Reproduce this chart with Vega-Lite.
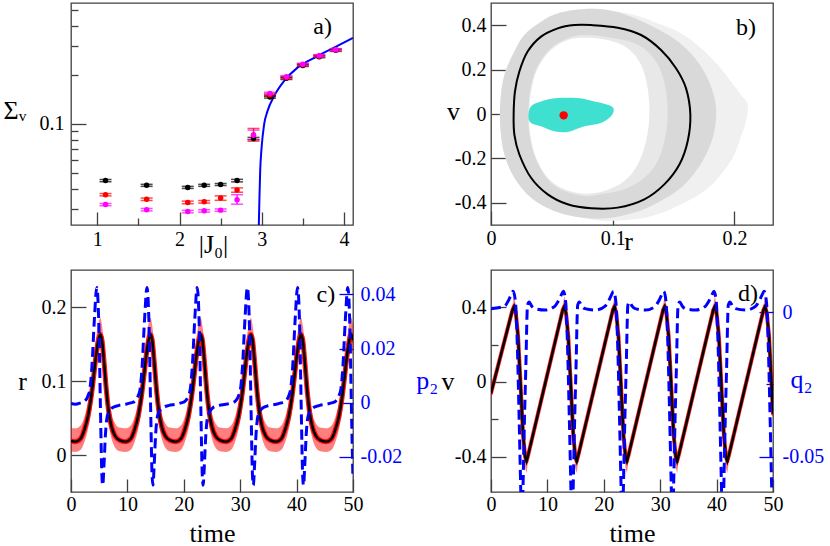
{
"$schema": "https://vega.github.io/schema/vega-lite/v6.json",
"background": "white",
"padding": {"left": 2, "top": 2, "right": 2, "bottom": 2},
"bounds": "flush",
"columns": 2,
"spacing": {"row": 45, "column": 138},
"config": {
 "view": {"stroke": "#404040", "strokeWidth": 1.3},
 "axis": {"grid": false, "domain": false, "labelFont": "Liberation Serif", "labelFontSize": 20, "labelColor": "#000000", "titleFont": "Liberation Serif", "titleFontSize": 26, "titleFontWeight": "normal", "titleColor": "#000000", "tickColor": "#404040", "tickWidth": 1.3, "labelPadding": 20, "labelFlush": false, "labelOverlap": false, "labelBound": false},
 "text": {"font": "Liberation Serif"}
},
"datasets": {
 "aCurve": [{"x":2.955,"y":0.018},{"x":2.965,"y":0.0247},{"x":2.973,"y":0.0368},{"x":2.981,"y":0.0512},{"x":2.998,"y":0.0712},{"x":3.029,"y":0.0992},{"x":3.07,"y":0.1197},{"x":3.151,"y":0.148},{"x":3.272,"y":0.183},{"x":3.435,"y":0.221},{"x":3.637,"y":0.254},{"x":3.88,"y":0.293},{"x":4.11,"y":0.336}],
 "aPts": [
  {"s":"black","x":1.1,"y":0.0449,"lo":0.0442,"hi":0.0456},{"s":"black","x":1.6,"y":0.042,"lo":0.0414,"hi":0.0426},{"s":"black","x":2.1,"y":0.0408,"lo":0.0402,"hi":0.0414},{"s":"black","x":2.3,"y":0.042,"lo":0.0414,"hi":0.0426},{"s":"black","x":2.5,"y":0.0425,"lo":0.0419,"hi":0.0431},{"s":"black","x":2.7,"y":0.0449,"lo":0.0441,"hi":0.0457},{"s":"black","x":2.9,"y":0.0813,"lo":0.08,"hi":0.0826},{"s":"black","x":3.1,"y":0.146,"lo":0.1438,"hi":0.1482},{"s":"black","x":3.3,"y":0.19,"lo":0.187,"hi":0.193},{"s":"black","x":3.5,"y":0.228,"lo":0.2246,"hi":0.2314},{"s":"black","x":3.7,"y":0.258,"lo":0.2541,"hi":0.2619},{"s":"black","x":3.9,"y":0.282,"lo":0.2778,"hi":0.2862},
  {"s":"red","x":1.1,"y":0.0368,"lo":0.0362,"hi":0.0374},{"s":"red","x":1.6,"y":0.0345,"lo":0.0339,"hi":0.0351},{"s":"red","x":2.1,"y":0.033,"lo":0.0324,"hi":0.0336},{"s":"red","x":2.3,"y":0.0333,"lo":0.0327,"hi":0.0339},{"s":"red","x":2.5,"y":0.0351,"lo":0.034,"hi":0.0362},{"s":"red","x":2.7,"y":0.0393,"lo":0.0381,"hi":0.0405},{"s":"red","x":2.9,"y":0.0855,"lo":0.0783,"hi":0.0937},{"s":"red","x":3.1,"y":0.15,"lo":0.1475,"hi":0.1525},{"s":"red","x":3.3,"y":0.192,"lo":0.189,"hi":0.195},{"s":"red","x":3.5,"y":0.23,"lo":0.2265,"hi":0.2335},{"s":"red","x":3.7,"y":0.26,"lo":0.256,"hi":0.264},{"s":"red","x":3.9,"y":0.284,"lo":0.2797,"hi":0.2883},
  {"s":"magenta","x":1.1,"y":0.032,"lo":0.0315,"hi":0.0325},{"s":"magenta","x":1.6,"y":0.0298,"lo":0.0293,"hi":0.0303},{"s":"magenta","x":2.1,"y":0.029,"lo":0.0285,"hi":0.0295},{"s":"magenta","x":2.3,"y":0.0293,"lo":0.0288,"hi":0.0298},{"s":"magenta","x":2.5,"y":0.0296,"lo":0.0291,"hi":0.0301},{"s":"magenta","x":2.7,"y":0.0343,"lo":0.0322,"hi":0.0368},{"s":"magenta","x":2.9,"y":0.0852,"lo":0.0802,"hi":0.0915},{"s":"magenta","x":3.1,"y":0.1537,"lo":0.1513,"hi":0.1561},{"s":"magenta","x":3.3,"y":0.1944,"lo":0.1914,"hi":0.1974},{"s":"magenta","x":3.5,"y":0.2317,"lo":0.2282,"hi":0.2352},{"s":"magenta","x":3.7,"y":0.2617,"lo":0.2578,"hi":0.2656},{"s":"magenta","x":3.9,"y":0.2848,"lo":0.2805,"hi":0.2891}],
 "bS": [{"i":0,"r":0.0767,"v":0.4726},{"i":1,"r":0.0959,"v":0.4681},{"i":2,"r":0.1178,"v":0.4456},{"i":3,"r":0.1369,"v":0.4083},{"i":4,"r":0.1561,"v":0.3634},{"i":5,"r":0.1726,"v":0.2961},{"i":6,"r":0.1862,"v":0.2213},{"i":7,"r":0.1972,"v":0.1466},{"i":8,"r":0.2054,"v":0.0867},{"i":9,"r":0.2109,"v":0.0419},{"i":10,"r":0.2095,"v":-0.0329},{"i":11,"r":0.2041,"v":-0.1226},{"i":12,"r":0.1986,"v":-0.1974},{"i":13,"r":0.189,"v":-0.2722},{"i":14,"r":0.1753,"v":-0.3469},{"i":15,"r":0.1534,"v":-0.4142},{"i":16,"r":0.1287,"v":-0.4636},{"i":17,"r":0.0959,"v":-0.4815},{"i":18,"r":0.074,"v":-0.4666},{"i":19,"r":0.052,"v":-0.4367},{"i":20,"r":0.0329,"v":-0.3768},{"i":21,"r":0.0192,"v":-0.2871},{"i":22,"r":0.011,"v":-0.1824},{"i":23,"r":0.0077,"v":-0.0628},{"i":24,"r":0.0077,"v":0.0568},{"i":25,"r":0.011,"v":0.1765},{"i":26,"r":0.0192,"v":0.2811},{"i":27,"r":0.0274,"v":0.3559},{"i":28,"r":0.0411,"v":0.4157},{"i":29,"r":0.0548,"v":0.4531}],
 "bD": [{"i":0,"r":0.0767,"v":0.4726},{"i":1,"r":0.0959,"v":0.4681},{"i":2,"r":0.115,"v":0.4382},{"i":3,"r":0.1315,"v":0.3978},{"i":4,"r":0.1479,"v":0.3484},{"i":5,"r":0.1616,"v":0.2886},{"i":6,"r":0.1726,"v":0.2138},{"i":7,"r":0.1808,"v":0.1241},{"i":8,"r":0.1849,"v":0.0269},{"i":9,"r":0.1835,"v":-0.0778},{"i":10,"r":0.178,"v":-0.1675},{"i":11,"r":0.1684,"v":-0.2572},{"i":12,"r":0.1561,"v":-0.332},{"i":13,"r":0.1369,"v":-0.3993},{"i":14,"r":0.1178,"v":-0.4441},{"i":15,"r":0.0959,"v":-0.4696},{"i":16,"r":0.074,"v":-0.4666},{"i":17,"r":0.052,"v":-0.4367},{"i":18,"r":0.0329,"v":-0.3768},{"i":19,"r":0.0192,"v":-0.2871},{"i":20,"r":0.011,"v":-0.1824},{"i":21,"r":0.0077,"v":-0.0628},{"i":22,"r":0.0077,"v":0.0568},{"i":23,"r":0.011,"v":0.1765},{"i":24,"r":0.0192,"v":0.2811},{"i":25,"r":0.0274,"v":0.3559},{"i":26,"r":0.0411,"v":0.4157},{"i":27,"r":0.0548,"v":0.4531}],
 "bL": [{"i":0,"r":0.0767,"v":0.3559},{"i":1,"r":0.0986,"v":0.344},{"i":2,"r":0.1178,"v":0.3185},{"i":3,"r":0.1315,"v":0.2662},{"i":4,"r":0.1397,"v":0.1914},{"i":5,"r":0.1438,"v":0.1017},{"i":6,"r":0.1452,"v":-0.003},{"i":7,"r":0.143,"v":-0.1077},{"i":8,"r":0.1369,"v":-0.2124},{"i":9,"r":0.126,"v":-0.2871},{"i":10,"r":0.1096,"v":-0.3395},{"i":11,"r":0.0904,"v":-0.3619},{"i":12,"r":0.0767,"v":-0.3694},{"i":13,"r":0.0603,"v":-0.3469},{"i":14,"r":0.0466,"v":-0.2946},{"i":15,"r":0.0364,"v":-0.1974},{"i":16,"r":0.0315,"v":-0.0927},{"i":17,"r":0.0307,"v":-0.003},{"i":18,"r":0.032,"v":0.1017},{"i":19,"r":0.0375,"v":0.2064},{"i":20,"r":0.0485,"v":0.2931},{"i":21,"r":0.063,"v":0.341}],
 "bH": [{"i":0,"r":0.0767,"v":0.344},{"i":1,"r":0.0959,"v":0.3335},{"i":2,"r":0.1123,"v":0.2961},{"i":3,"r":0.1233,"v":0.2213},{"i":4,"r":0.1287,"v":0.1166},{"i":5,"r":0.1301,"v":-0.003},{"i":6,"r":0.1274,"v":-0.1226},{"i":7,"r":0.1205,"v":-0.2273},{"i":8,"r":0.1096,"v":-0.3021},{"i":9,"r":0.0931,"v":-0.3469},{"i":10,"r":0.0767,"v":-0.3589},{"i":11,"r":0.0603,"v":-0.3395},{"i":12,"r":0.0466,"v":-0.2871},{"i":13,"r":0.037,"v":-0.1974},{"i":14,"r":0.0323,"v":-0.0927},{"i":15,"r":0.0315,"v":-0.003},{"i":16,"r":0.0329,"v":0.1017},{"i":17,"r":0.0383,"v":0.2064},{"i":18,"r":0.0493,"v":0.2886},{"i":19,"r":0.063,"v":0.3335}],
 "bC": [{"i":0,"r":0.0822,"v":0.4008},{"i":1,"r":0.1041,"v":0.3888},{"i":2,"r":0.1233,"v":0.3559},{"i":3,"r":0.1397,"v":0.2886},{"i":4,"r":0.152,"v":0.2064},{"i":5,"r":0.1602,"v":0.1166},{"i":6,"r":0.1638,"v":-0.003},{"i":7,"r":0.1616,"v":-0.1226},{"i":8,"r":0.1548,"v":-0.2273},{"i":9,"r":0.1424,"v":-0.317},{"i":10,"r":0.126,"v":-0.3843},{"i":11,"r":0.1041,"v":-0.4217},{"i":12,"r":0.0822,"v":-0.4247},{"i":13,"r":0.063,"v":-0.4068},{"i":14,"r":0.0466,"v":-0.3619},{"i":15,"r":0.0329,"v":-0.2871},{"i":16,"r":0.0233,"v":-0.1824},{"i":17,"r":0.0192,"v":-0.0927},{"i":18,"r":0.0186,"v":-0.003},{"i":19,"r":0.0197,"v":0.1017},{"i":20,"r":0.0233,"v":0.1914},{"i":21,"r":0.0301,"v":0.2811},{"i":22,"r":0.0411,"v":0.3484},{"i":23,"r":0.0548,"v":0.3858},{"i":24,"r":0.0685,"v":0.4008}],
 "bT": [{"i":0,"r":0.0307,"v":-0.0105},{"i":1,"r":0.0329,"v":0.0344},{"i":2,"r":0.0411,"v":0.0568},{"i":3,"r":0.0548,"v":0.0718},{"i":4,"r":0.0712,"v":0.0718},{"i":5,"r":0.0849,"v":0.0568},{"i":6,"r":0.0959,"v":0.0419},{"i":7,"r":0.1008,"v":0.0239},{"i":8,"r":0.0986,"v":-0.0105},{"i":9,"r":0.0904,"v":-0.0404},{"i":10,"r":0.0767,"v":-0.0553},{"i":11,"r":0.063,"v":-0.0808},{"i":12,"r":0.052,"v":-0.0778},{"i":13,"r":0.0411,"v":-0.0553},{"i":14,"r":0.0329,"v":-0.0404}],
 "bP": [{"r":0.0597,"v":-0.006}],
 "cR": [{"t":0,"r":0.019,"lo":0.005,"hi":0.036},
  {"t":0.75,"r":0.018,"lo":0.004,"hi":0.036},{"t":1.7,"r":0.022,"lo":0.007,"hi":0.04},{"t":2.4,"r":0.035,"lo":0.018,"hi":0.052},{"t":3.0,"r":0.052,"lo":0.034,"hi":0.07},{"t":3.55,"r":0.077,"lo":0.057,"hi":0.097},{"t":4.0,"r":0.105,"lo":0.083,"hi":0.127},{"t":4.45,"r":0.135,"lo":0.113,"hi":0.157},{"t":4.85,"r":0.155,"lo":0.135,"hi":0.178},{"t":5.2,"r":0.163,"lo":0.145,"hi":0.185},{"t":5.5,"r":0.155,"lo":0.133,"hi":0.175},{"t":5.9,"r":0.122,"lo":0.1,"hi":0.144},{"t":6.3,"r":0.085,"lo":0.063,"hi":0.107},{"t":6.7,"r":0.058,"lo":0.04,"hi":0.078},{"t":7.2,"r":0.038,"lo":0.022,"hi":0.055},{"t":7.8,"r":0.026,"lo":0.01,"hi":0.043},{"t":8.6,"r":0.02,"lo":0.005,"hi":0.037},
  {"t":9.65,"r":0.018,"lo":0.004,"hi":0.036},{"t":10.6,"r":0.022,"lo":0.007,"hi":0.04},{"t":11.3,"r":0.035,"lo":0.018,"hi":0.052},{"t":11.9,"r":0.052,"lo":0.034,"hi":0.07},{"t":12.45,"r":0.077,"lo":0.057,"hi":0.097},{"t":12.9,"r":0.105,"lo":0.083,"hi":0.127},{"t":13.35,"r":0.135,"lo":0.113,"hi":0.157},{"t":13.75,"r":0.155,"lo":0.135,"hi":0.178},{"t":14.1,"r":0.163,"lo":0.145,"hi":0.185},{"t":14.4,"r":0.155,"lo":0.133,"hi":0.175},{"t":14.8,"r":0.122,"lo":0.1,"hi":0.144},{"t":15.2,"r":0.085,"lo":0.063,"hi":0.107},{"t":15.6,"r":0.058,"lo":0.04,"hi":0.078},{"t":16.1,"r":0.038,"lo":0.022,"hi":0.055},{"t":16.7,"r":0.026,"lo":0.01,"hi":0.043},{"t":17.5,"r":0.02,"lo":0.005,"hi":0.037},
  {"t":18.55,"r":0.018,"lo":0.004,"hi":0.036},{"t":19.5,"r":0.022,"lo":0.007,"hi":0.04},{"t":20.2,"r":0.035,"lo":0.018,"hi":0.052},{"t":20.8,"r":0.052,"lo":0.034,"hi":0.07},{"t":21.35,"r":0.077,"lo":0.057,"hi":0.097},{"t":21.8,"r":0.105,"lo":0.083,"hi":0.127},{"t":22.25,"r":0.135,"lo":0.113,"hi":0.157},{"t":22.65,"r":0.155,"lo":0.135,"hi":0.178},{"t":23.0,"r":0.163,"lo":0.145,"hi":0.185},{"t":23.3,"r":0.155,"lo":0.133,"hi":0.175},{"t":23.7,"r":0.122,"lo":0.1,"hi":0.144},{"t":24.1,"r":0.085,"lo":0.063,"hi":0.107},{"t":24.5,"r":0.058,"lo":0.04,"hi":0.078},{"t":25.0,"r":0.038,"lo":0.022,"hi":0.055},{"t":25.6,"r":0.026,"lo":0.01,"hi":0.043},{"t":26.4,"r":0.02,"lo":0.005,"hi":0.037},
  {"t":27.45,"r":0.018,"lo":0.004,"hi":0.036},{"t":28.4,"r":0.022,"lo":0.007,"hi":0.04},{"t":29.1,"r":0.035,"lo":0.018,"hi":0.052},{"t":29.7,"r":0.052,"lo":0.034,"hi":0.07},{"t":30.25,"r":0.077,"lo":0.057,"hi":0.097},{"t":30.7,"r":0.105,"lo":0.083,"hi":0.127},{"t":31.15,"r":0.135,"lo":0.113,"hi":0.157},{"t":31.55,"r":0.155,"lo":0.135,"hi":0.178},{"t":31.9,"r":0.163,"lo":0.145,"hi":0.185},{"t":32.2,"r":0.155,"lo":0.133,"hi":0.175},{"t":32.6,"r":0.122,"lo":0.1,"hi":0.144},{"t":33.0,"r":0.085,"lo":0.063,"hi":0.107},{"t":33.4,"r":0.058,"lo":0.04,"hi":0.078},{"t":33.9,"r":0.038,"lo":0.022,"hi":0.055},{"t":34.5,"r":0.026,"lo":0.01,"hi":0.043},{"t":35.3,"r":0.02,"lo":0.005,"hi":0.037},
  {"t":36.35,"r":0.018,"lo":0.004,"hi":0.036},{"t":37.3,"r":0.022,"lo":0.007,"hi":0.04},{"t":38.0,"r":0.035,"lo":0.018,"hi":0.052},{"t":38.6,"r":0.052,"lo":0.034,"hi":0.07},{"t":39.15,"r":0.077,"lo":0.057,"hi":0.097},{"t":39.6,"r":0.105,"lo":0.083,"hi":0.127},{"t":40.05,"r":0.135,"lo":0.113,"hi":0.157},{"t":40.45,"r":0.155,"lo":0.135,"hi":0.178},{"t":40.8,"r":0.163,"lo":0.145,"hi":0.185},{"t":41.1,"r":0.155,"lo":0.133,"hi":0.175},{"t":41.5,"r":0.122,"lo":0.1,"hi":0.144},{"t":41.9,"r":0.085,"lo":0.063,"hi":0.107},{"t":42.3,"r":0.058,"lo":0.04,"hi":0.078},{"t":42.8,"r":0.038,"lo":0.022,"hi":0.055},{"t":43.4,"r":0.026,"lo":0.01,"hi":0.043},{"t":44.2,"r":0.02,"lo":0.005,"hi":0.037},
  {"t":45.25,"r":0.018,"lo":0.004,"hi":0.036},{"t":46.2,"r":0.022,"lo":0.007,"hi":0.04},{"t":46.9,"r":0.035,"lo":0.018,"hi":0.052},{"t":47.5,"r":0.052,"lo":0.034,"hi":0.07},{"t":48.05,"r":0.077,"lo":0.057,"hi":0.097},{"t":48.5,"r":0.105,"lo":0.083,"hi":0.127},{"t":48.95,"r":0.135,"lo":0.113,"hi":0.157},{"t":49.35,"r":0.155,"lo":0.135,"hi":0.178},{"t":49.7,"r":0.163,"lo":0.145,"hi":0.185},{"t":50.0,"r":0.155,"lo":0.133,"hi":0.175}],
 "cQ": [{"t":0,"q":-0.0003},{"t":0.75,"q":-0.0006},{"t":1.7,"q":-0.0001},{"t":2.4,"q":0.0005},{"t":3.0,"q":0.0025},{"t":3.35,"q":0.005},{"t":3.7,"q":0.013},{"t":4.15,"q":0.031},{"t":4.57,"q":0.0425},{"t":4.8,"q":0.037},{"t":4.98,"q":0.025},{"t":5.22,"q":-0.002},{"t":5.48,"q":-0.027},{"t":5.63,"q":-0.0305},{"t":5.85,"q":-0.023},{"t":6.1,"q":-0.012},{"t":6.5,"q":-0.0045},{"t":7.4,"q":-0.0018},{"t":8.5,"q":-0.001},
  {"t":9.65,"q":-0.0006},{"t":10.6,"q":-0.0001},{"t":11.3,"q":0.0005},{"t":11.9,"q":0.0025},{"t":12.25,"q":0.005},{"t":12.6,"q":0.013},{"t":13.05,"q":0.031},{"t":13.47,"q":0.0425},{"t":13.7,"q":0.037},{"t":13.88,"q":0.025},{"t":14.12,"q":-0.002},{"t":14.38,"q":-0.027},{"t":14.53,"q":-0.0305},{"t":14.75,"q":-0.023},{"t":15.0,"q":-0.012},{"t":15.4,"q":-0.0045},{"t":16.3,"q":-0.0018},{"t":17.4,"q":-0.001},
  {"t":18.55,"q":-0.0006},{"t":19.5,"q":-0.0001},{"t":20.2,"q":0.0005},{"t":20.8,"q":0.0025},{"t":21.15,"q":0.005},{"t":21.5,"q":0.013},{"t":21.95,"q":0.031},{"t":22.37,"q":0.0425},{"t":22.6,"q":0.037},{"t":22.78,"q":0.025},{"t":23.02,"q":-0.002},{"t":23.28,"q":-0.027},{"t":23.43,"q":-0.0305},{"t":23.65,"q":-0.023},{"t":23.9,"q":-0.012},{"t":24.3,"q":-0.0045},{"t":25.2,"q":-0.0018},{"t":26.3,"q":-0.001},
  {"t":27.45,"q":-0.0006},{"t":28.4,"q":-0.0001},{"t":29.1,"q":0.0005},{"t":29.7,"q":0.0025},{"t":30.05,"q":0.005},{"t":30.4,"q":0.013},{"t":30.85,"q":0.031},{"t":31.27,"q":0.0425},{"t":31.5,"q":0.037},{"t":31.68,"q":0.025},{"t":31.92,"q":-0.002},{"t":32.18,"q":-0.027},{"t":32.33,"q":-0.0305},{"t":32.55,"q":-0.023},{"t":32.8,"q":-0.012},{"t":33.2,"q":-0.0045},{"t":34.1,"q":-0.0018},{"t":35.2,"q":-0.001},
  {"t":36.35,"q":-0.0006},{"t":37.3,"q":-0.0001},{"t":38.0,"q":0.0005},{"t":38.6,"q":0.0025},{"t":38.95,"q":0.005},{"t":39.3,"q":0.013},{"t":39.75,"q":0.031},{"t":40.17,"q":0.0425},{"t":40.4,"q":0.037},{"t":40.58,"q":0.025},{"t":40.82,"q":-0.002},{"t":41.08,"q":-0.027},{"t":41.23,"q":-0.0305},{"t":41.45,"q":-0.023},{"t":41.7,"q":-0.012},{"t":42.1,"q":-0.0045},{"t":43.0,"q":-0.0018},{"t":44.1,"q":-0.001},
  {"t":45.25,"q":-0.0006},{"t":46.2,"q":-0.0001},{"t":46.9,"q":0.0005},{"t":47.5,"q":0.0025},{"t":47.85,"q":0.005},{"t":48.2,"q":0.013},{"t":48.65,"q":0.031},{"t":49.07,"q":0.0425},{"t":49.3,"q":0.037},{"t":49.48,"q":0.025},{"t":49.72,"q":-0.002},{"t":49.98,"q":-0.027}],
 "dV": [{"t":0,"v":-0.06,"lo":-0.085,"hi":-0.035},
  {"t":3.8,"v":0.385,"lo":0.36,"hi":0.41},{"t":4.1,"v":0.405,"lo":0.37,"hi":0.46},{"t":4.4,"v":0.37,"lo":0.33,"hi":0.41},{"t":4.8,"v":0.245,"lo":0.2,"hi":0.29},{"t":5.25,"v":-0.02,"lo":-0.07,"hi":0.03},{"t":5.7,"v":-0.29,"lo":-0.34,"hi":-0.24},{"t":6.05,"v":-0.4,"lo":-0.46,"hi":-0.36},{"t":6.3,"v":-0.425,"lo":-0.49,"hi":-0.39},{"t":6.6,"v":-0.39,"lo":-0.42,"hi":-0.36},
  {"t":12.7,"v":0.385,"lo":0.36,"hi":0.41},{"t":13.0,"v":0.405,"lo":0.37,"hi":0.46},{"t":13.3,"v":0.37,"lo":0.33,"hi":0.41},{"t":13.7,"v":0.245,"lo":0.2,"hi":0.29},{"t":14.15,"v":-0.02,"lo":-0.07,"hi":0.03},{"t":14.6,"v":-0.29,"lo":-0.34,"hi":-0.24},{"t":14.95,"v":-0.4,"lo":-0.46,"hi":-0.36},{"t":15.2,"v":-0.425,"lo":-0.49,"hi":-0.39},{"t":15.5,"v":-0.39,"lo":-0.42,"hi":-0.36},
  {"t":21.6,"v":0.385,"lo":0.36,"hi":0.41},{"t":21.9,"v":0.405,"lo":0.37,"hi":0.46},{"t":22.2,"v":0.37,"lo":0.33,"hi":0.41},{"t":22.6,"v":0.245,"lo":0.2,"hi":0.29},{"t":23.05,"v":-0.02,"lo":-0.07,"hi":0.03},{"t":23.5,"v":-0.29,"lo":-0.34,"hi":-0.24},{"t":23.85,"v":-0.4,"lo":-0.46,"hi":-0.36},{"t":24.1,"v":-0.425,"lo":-0.49,"hi":-0.39},{"t":24.4,"v":-0.39,"lo":-0.42,"hi":-0.36},
  {"t":30.5,"v":0.385,"lo":0.36,"hi":0.41},{"t":30.8,"v":0.405,"lo":0.37,"hi":0.46},{"t":31.1,"v":0.37,"lo":0.33,"hi":0.41},{"t":31.5,"v":0.245,"lo":0.2,"hi":0.29},{"t":31.95,"v":-0.02,"lo":-0.07,"hi":0.03},{"t":32.4,"v":-0.29,"lo":-0.34,"hi":-0.24},{"t":32.75,"v":-0.4,"lo":-0.46,"hi":-0.36},{"t":33.0,"v":-0.425,"lo":-0.49,"hi":-0.39},{"t":33.3,"v":-0.39,"lo":-0.42,"hi":-0.36},
  {"t":39.4,"v":0.385,"lo":0.36,"hi":0.41},{"t":39.7,"v":0.405,"lo":0.37,"hi":0.46},{"t":40.0,"v":0.37,"lo":0.33,"hi":0.41},{"t":40.4,"v":0.245,"lo":0.2,"hi":0.29},{"t":40.85,"v":-0.02,"lo":-0.07,"hi":0.03},{"t":41.3,"v":-0.29,"lo":-0.34,"hi":-0.24},{"t":41.65,"v":-0.4,"lo":-0.46,"hi":-0.36},{"t":41.9,"v":-0.425,"lo":-0.49,"hi":-0.39},{"t":42.2,"v":-0.39,"lo":-0.42,"hi":-0.36},
  {"t":48.3,"v":0.385,"lo":0.36,"hi":0.41},{"t":48.6,"v":0.405,"lo":0.37,"hi":0.46},{"t":48.9,"v":0.37,"lo":0.33,"hi":0.41},{"t":49.3,"v":0.245,"lo":0.2,"hi":0.29},{"t":49.75,"v":-0.02,"lo":-0.07,"hi":0.03},{"t":50.0,"v":-0.17,"lo":-0.21,"hi":-0.13}],
 "dQ": [{"t":0,"q":0.0013},{"t":2.45,"q":0.0022},{"t":3.0,"q":0.0038},{"t":3.5,"q":0.0058},{"t":3.93,"q":0.0073},{"t":4.34,"q":0.0036},{"t":4.7,"q":-0.0138},{"t":4.99,"q":-0.037},{"t":5.29,"q":-0.063},{"t":5.47,"q":-0.078},{"t":5.65,"q":-0.063},{"t":5.9,"q":-0.04},{"t":6.17,"q":-0.0195},{"t":6.47,"q":0.0025},{"t":6.77,"q":0.0036},{"t":7.2,"q":0.0022},{"t":7.77,"q":0.0013},{"t":9.6,"q":0.0008},
  {"t":11.35,"q":0.0022},{"t":11.9,"q":0.0038},{"t":12.4,"q":0.0058},{"t":12.83,"q":0.0073},{"t":13.24,"q":0.0036},{"t":13.6,"q":-0.0138},{"t":13.89,"q":-0.037},{"t":14.19,"q":-0.063},{"t":14.37,"q":-0.078},{"t":14.55,"q":-0.063},{"t":14.8,"q":-0.04},{"t":15.07,"q":-0.0195},{"t":15.37,"q":0.0025},{"t":15.67,"q":0.0036},{"t":16.1,"q":0.0022},{"t":16.67,"q":0.0013},{"t":18.5,"q":0.0008},
  {"t":20.25,"q":0.0022},{"t":20.8,"q":0.0038},{"t":21.3,"q":0.0058},{"t":21.73,"q":0.0073},{"t":22.14,"q":0.0036},{"t":22.5,"q":-0.0138},{"t":22.79,"q":-0.037},{"t":23.09,"q":-0.063},{"t":23.27,"q":-0.078},{"t":23.45,"q":-0.063},{"t":23.7,"q":-0.04},{"t":23.97,"q":-0.0195},{"t":24.27,"q":0.0025},{"t":24.57,"q":0.0036},{"t":25.0,"q":0.0022},{"t":25.57,"q":0.0013},{"t":27.4,"q":0.0008},
  {"t":29.15,"q":0.0022},{"t":29.7,"q":0.0038},{"t":30.2,"q":0.0058},{"t":30.63,"q":0.0073},{"t":31.04,"q":0.0036},{"t":31.4,"q":-0.0138},{"t":31.69,"q":-0.037},{"t":31.99,"q":-0.063},{"t":32.17,"q":-0.078},{"t":32.35,"q":-0.063},{"t":32.6,"q":-0.04},{"t":32.87,"q":-0.0195},{"t":33.17,"q":0.0025},{"t":33.47,"q":0.0036},{"t":33.9,"q":0.0022},{"t":34.47,"q":0.0013},{"t":36.3,"q":0.0008},
  {"t":38.05,"q":0.0022},{"t":38.6,"q":0.0038},{"t":39.1,"q":0.0058},{"t":39.53,"q":0.0073},{"t":39.94,"q":0.0036},{"t":40.3,"q":-0.0138},{"t":40.59,"q":-0.037},{"t":40.89,"q":-0.063},{"t":41.07,"q":-0.078},{"t":41.25,"q":-0.063},{"t":41.5,"q":-0.04},{"t":41.77,"q":-0.0195},{"t":42.07,"q":0.0025},{"t":42.37,"q":0.0036},{"t":42.8,"q":0.0022},{"t":43.37,"q":0.0013},{"t":45.2,"q":0.0008},
  {"t":46.95,"q":0.0022},{"t":47.5,"q":0.0038},{"t":48.0,"q":0.0058},{"t":48.43,"q":0.0073},{"t":48.84,"q":0.0036},{"t":49.2,"q":-0.0138},{"t":49.49,"q":-0.037},{"t":49.79,"q":-0.063},{"t":50.0,"q":-0.078}]
},
"concat": [
 {
  "width": 282, "height": 222,
  "layer": [
   {"data": {"name": "aCurve"}, "mark": {"type": "line", "color": "#0000ff", "strokeWidth": 2, "clip": true, "interpolate": "monotone"},
    "encoding": {
     "x": {"field": "x", "type": "quantitative", "scale": {"domain": [0.68, 4.11], "nice": false, "zero": false},
       "axis": {"values": [1, 1.5, 2, 2.5, 3, 3.5, 4], "labelExpr": "datum.value % 1 == 0 ? format(datum.value, 'd') : ''", "labelFontSize": {"condition": {"test": "datum.value % 1 == 0", "value": 20}, "value": 0}, "tickSize": {"condition": {"test": "datum.value % 1 == 0", "value": -13}, "value": -7}, "labelPadding": 17, "title": "|J₀|", "titleX": 142, "titleY": 27, "titleBaseline": "alphabetic", "titleAlign": "center"}},
     "y": {"field": "y", "type": "quantitative", "scale": {"type": "log", "domain": [0.024, 0.55], "nice": false},
       "axis": {"values": [0.03, 0.04, 0.05, 0.06, 0.07, 0.08, 0.09, 0.1, 0.2, 0.3, 0.4, 0.5], "labelExpr": "datum.value == 0.1 ? '0.1' : ''", "labelFontSize": {"condition": {"test": "datum.value == 0.1", "value": 20}, "value": 0}, "tickSize": {"condition": {"test": "datum.value == 0.1", "value": -15}, "value": -7}, "labelPadding": 22, "title": "Σᵥ", "titleAngle": 0, "titleX": -68, "titleY": 115, "titleAlign": "left", "titleBaseline": "alphabetic"}}
    }},
   {"data": {"name": "aPts"}, "mark": {"type": "rule", "strokeWidth": 1.3},
    "encoding": {"x": {"field": "x", "type": "quantitative"}, "y": {"field": "lo", "type": "quantitative"}, "y2": {"field": "hi"},
     "color": {"field": "s", "type": "nominal", "scale": {"domain": ["black", "red", "magenta"], "range": ["#000000", "#ff0000", "#ff00ff"]}, "legend": null}}},
   {"data": {"name": "aPts"}, "mark": {"type": "tick", "orient": "horizontal", "size": 12, "thickness": 1.5},
    "encoding": {"x": {"field": "x", "type": "quantitative"}, "y": {"field": "lo", "type": "quantitative"},
     "color": {"field": "s", "type": "nominal", "scale": {"domain": ["black", "red", "magenta"], "range": ["#000000", "#ff0000", "#ff00ff"]}, "legend": null}}},
   {"data": {"name": "aPts"}, "mark": {"type": "tick", "orient": "horizontal", "size": 12, "thickness": 1.5},
    "encoding": {"x": {"field": "x", "type": "quantitative"}, "y": {"field": "hi", "type": "quantitative"},
     "color": {"field": "s", "type": "nominal", "scale": {"domain": ["black", "red", "magenta"], "range": ["#000000", "#ff0000", "#ff00ff"]}, "legend": null}}},
   {"data": {"name": "aPts"}, "mark": {"type": "point", "filled": true, "size": 30, "opacity": 1},
    "encoding": {"x": {"field": "x", "type": "quantitative"}, "y": {"field": "y", "type": "quantitative"},
     "color": {"field": "s", "type": "nominal", "scale": {"domain": ["black", "red", "magenta"], "range": ["#000000", "#ff0000", "#ff00ff"]}, "legend": null}}},
   {"data": {"values": [{}]}, "mark": {"type": "text", "fontSize": 24, "baseline": "middle", "align": "center", "color": "#000000"},
    "encoding": {"x": {"datum": 3.74, "type": "quantitative"}, "y": {"datum": 0.393, "type": "quantitative"}, "text": {"value": "a)"}}}
  ]
 },
 {
  "width": 282, "height": 222,
  "layer": [
   {"data": {"name": "bS"}, "mark": {"type": "line", "filled": true, "fill": "#f0f0f0", "interpolate": "cardinal-closed", "clip": true},
    "encoding": {
     "x": {"field": "r", "type": "quantitative", "scale": {"domain": [0, 0.2317], "nice": false},
       "axis": {"values": [0, 0.1, 0.2], "labelExpr": "datum.value == 0 ? '0' : format(datum.value, '.1f')", "tickSize": -14, "labelPadding": 17, "title": "r", "titleX": 137, "titleY": 24, "titleBaseline": "alphabetic", "titleAlign": "center"}},
     "y": {"field": "v", "type": "quantitative", "scale": {"domain": [-0.5, 0.5], "nice": false},
       "axis": {"values": [-0.4, -0.2, 0, 0.2, 0.4], "labelExpr": "datum.value == 0 ? '0' : replace(format(datum.value, '.1f'), '−', '-')", "tickSize": -15, "labelPadding": 20, "title": "v", "titleAngle": 0, "titleX": -38, "titleY": 116, "titleAlign": "center", "titleBaseline": "alphabetic"}},
     "order": {"field": "i", "type": "quantitative"}
    }},
   {"data": {"name": "bD"}, "mark": {"type": "line", "filled": true, "fill": "#d9d9d9", "interpolate": "cardinal-closed", "clip": true},
    "encoding": {"x": {"field": "r", "type": "quantitative"}, "y": {"field": "v", "type": "quantitative"}, "order": {"field": "i", "type": "quantitative"}}},
   {"data": {"name": "bL"}, "mark": {"type": "line", "filled": true, "fill": "#e8e8e8", "interpolate": "cardinal-closed", "clip": true},
    "encoding": {"x": {"field": "r", "type": "quantitative"}, "y": {"field": "v", "type": "quantitative"}, "order": {"field": "i", "type": "quantitative"}}},
   {"data": {"name": "bH"}, "mark": {"type": "line", "filled": true, "fill": "#ffffff", "interpolate": "cardinal-closed", "clip": true},
    "encoding": {"x": {"field": "r", "type": "quantitative"}, "y": {"field": "v", "type": "quantitative"}, "order": {"field": "i", "type": "quantitative"}}},
   {"data": {"name": "bC"}, "mark": {"type": "line", "color": "#000000", "strokeWidth": 2, "interpolate": "cardinal-closed", "clip": true},
    "encoding": {"x": {"field": "r", "type": "quantitative"}, "y": {"field": "v", "type": "quantitative"}, "order": {"field": "i", "type": "quantitative"}}},
   {"data": {"name": "bT"}, "mark": {"type": "line", "filled": true, "fill": "#40e0d0", "interpolate": "cardinal-closed", "clip": true},
    "encoding": {"x": {"field": "r", "type": "quantitative"}, "y": {"field": "v", "type": "quantitative"}, "order": {"field": "i", "type": "quantitative"}}},
   {"data": {"name": "bP"}, "mark": {"type": "point", "filled": true, "size": 70, "color": "#ff0000", "opacity": 1},
    "encoding": {"x": {"field": "r", "type": "quantitative"}, "y": {"field": "v", "type": "quantitative"}}},
   {"data": {"values": [{}]}, "mark": {"type": "text", "fontSize": 24, "baseline": "middle", "align": "center", "color": "#000000"},
    "encoding": {"x": {"datum": 0.2095, "type": "quantitative"}, "y": {"datum": 0.389, "type": "quantitative"}, "text": {"value": "b)"}}}
  ]
 },
 {
  "width": 282, "height": 222,
  "resolve": {"scale": {"y": "independent"}},
  "layer": [
   {"layer": [
     {"data": {"name": "cR"}, "mark": {"type": "area", "color": "#ff0000", "opacity": 0.5, "interpolate": "monotone", "clip": true},
      "encoding": {
       "x": {"field": "t", "type": "quantitative", "scale": {"domain": [0, 50], "nice": false},
         "axis": {"values": [0, 10, 20, 30, 40, 50], "tickSize": -13, "labelPadding": 15, "title": "time", "titleY": 49, "titleBaseline": "alphabetic"}},
       "y": {"field": "lo", "type": "quantitative", "scale": {"domain": [-0.05, 0.25], "nice": false},
         "axis": {"values": [0, 0.1, 0.2], "labelExpr": "datum.value == 0 ? '0' : format(datum.value, '.1f')", "tickSize": -15, "labelPadding": 20, "title": "r", "titleAngle": 0, "titleX": -49, "titleY": 119, "titleAlign": "center", "titleBaseline": "alphabetic"}},
       "y2": {"field": "hi"}
      }},
     {"data": {"name": "cR"}, "mark": {"type": "line", "color": "#ff0000", "strokeWidth": 5, "opacity": 0.9, "interpolate": "monotone", "clip": true, "strokeCap": "round", "strokeJoin": "round"},
      "encoding": {"x": {"field": "t", "type": "quantitative"}, "y": {"field": "r", "type": "quantitative"}}},
     {"data": {"name": "cR"}, "mark": {"type": "line", "color": "#000000", "strokeWidth": 2.5, "interpolate": "monotone", "clip": true},
      "encoding": {"x": {"field": "t", "type": "quantitative"}, "y": {"field": "r", "type": "quantitative"}}},
     {"data": {"values": [{}]}, "mark": {"type": "text", "fontSize": 24, "baseline": "middle", "align": "center", "color": "#000000"},
      "encoding": {"x": {"datum": 45.2, "type": "quantitative"}, "y": {"datum": 0.2168, "type": "quantitative"}, "text": {"value": "c)"}}}
   ]},
   {"data": {"name": "cQ"}, "mark": {"type": "line", "color": "#0000ff", "strokeWidth": 3, "strokeDash": [10, 5], "interpolate": "monotone", "clip": true},
    "encoding": {"x": {"field": "t", "type": "quantitative"},
     "y": {"field": "q", "type": "quantitative", "scale": {"domain": [-0.033, 0.049], "nice": false},
       "axis": {"orient": "right", "values": [-0.02, 0, 0.02, 0.04], "labelExpr": "datum.value == 0 ? '0' : replace(format(datum.value, '.2f'), '−', '-')", "tickSize": -14, "labelColor": "#0000ff", "tickColor": "#0000ff", "labelPadding": 21, "title": null}}}}
  ]
 },
 {
  "width": 282, "height": 222,
  "resolve": {"scale": {"y": "independent"}},
  "layer": [
   {"layer": [
     {"data": {"name": "dV"}, "mark": {"type": "area", "color": "#ff0000", "opacity": 0.5, "clip": true},
      "encoding": {
       "x": {"field": "t", "type": "quantitative", "scale": {"domain": [0, 50], "nice": false},
         "axis": {"values": [0, 10, 20, 30, 40, 50], "tickSize": -13, "labelPadding": 15, "title": "time", "titleY": 49, "titleBaseline": "alphabetic"}},
       "y": {"field": "lo", "type": "quantitative", "scale": {"domain": [-0.59, 0.6], "nice": false},
         "axis": {"values": [-0.4, -0.2, 0, 0.2, 0.4], "labelExpr": "datum.value == 0 ? '0' : abs(datum.value) > 0.3 ? replace(format(datum.value, '.1f'), '−', '-') : ''", "tickSize": {"condition": {"test": "abs(datum.value) > 0.3 || datum.value == 0", "value": -15}, "value": -7}, "labelPadding": 20, "title": "v", "titleAngle": 0, "titleX": -43.5, "titleY": 119, "titleAlign": "center", "titleBaseline": "alphabetic"}},
       "y2": {"field": "hi"}
      }},
     {"data": {"name": "dV"}, "mark": {"type": "line", "color": "#ff0000", "strokeWidth": 4, "opacity": 0.9, "clip": true, "strokeCap": "round", "strokeJoin": "round"},
      "encoding": {"x": {"field": "t", "type": "quantitative"}, "y": {"field": "v", "type": "quantitative"}}},
     {"data": {"name": "dV"}, "mark": {"type": "line", "color": "#000000", "strokeWidth": 2.5, "clip": true},
      "encoding": {"x": {"field": "t", "type": "quantitative"}, "y": {"field": "v", "type": "quantitative"}}},
     {"data": {"values": [{}]}, "mark": {"type": "text", "fontSize": 24, "baseline": "middle", "align": "center", "color": "#000000"},
      "encoding": {"x": {"datum": 45.55, "type": "quantitative"}, "y": {"datum": 0.47, "type": "quantitative"}, "text": {"value": "d)"}}},
     {"data": {"values": [{}]}, "mark": {"type": "text", "fontSize": 26, "baseline": "alphabetic", "align": "center", "color": "#0000ff"},
      "encoding": {"x": {"datum": -11.3, "type": "quantitative"}, "y": {"datum": -0.039, "type": "quantitative"}, "text": {"value": "p₂"}}}
   ]},
   {"data": {"name": "dQ"}, "mark": {"type": "line", "color": "#0000ff", "strokeWidth": 3, "strokeDash": [10, 5], "interpolate": "monotone", "clip": true},
    "encoding": {"x": {"field": "t", "type": "quantitative"},
     "y": {"field": "q", "type": "quantitative", "scale": {"domain": [-0.0623, 0.0147], "nice": false},
       "axis": {"orient": "right", "values": [-0.05, -0.025, 0], "labelExpr": "datum.value == 0 ? '0' : datum.value == -0.05 ? '-0.05' : ''", "tickSize": {"condition": {"test": "datum.value == -0.025", "value": -7}, "value": -14}, "labelColor": "#0000ff", "tickColor": "#0000ff", "labelPadding": 23, "title": "q₂", "titleColor": "#0000ff", "titleAngle": 0, "titleX": 28, "titleY": 117, "titleAlign": "center", "titleBaseline": "alphabetic"}}}}
  ]
 }
]
}
